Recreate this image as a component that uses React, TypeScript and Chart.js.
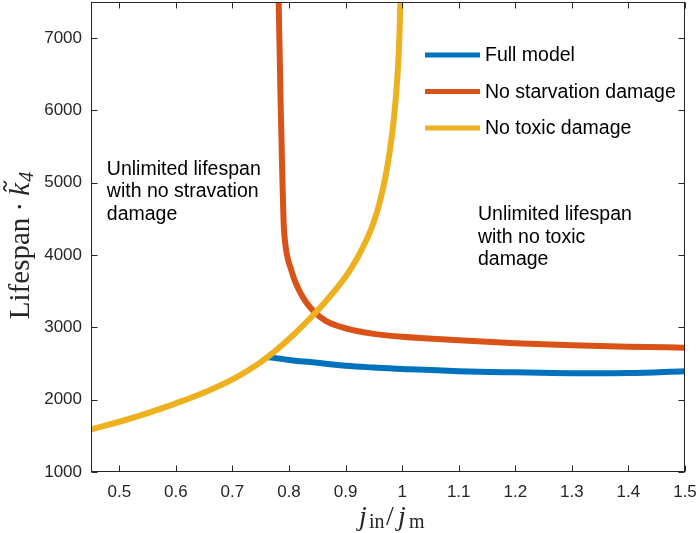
import { useEffect, useRef } from "react";
import { Chart, registerables } from "chart.js";

Chart.register(...registerables);

// tick labels
const xTicks = [0.5, 0.6, 0.7, 0.8, 0.9, 1.0, 1.1, 1.2, 1.3, 1.4, 1.5];
const yTicks = [1000, 2000, 3000, 4000, 5000, 6000, 7000];

// Full model
const fullX = [0.76, 0.77, 0.8, 0.85, 0.9, 0.95, 1.0, 1.1, 1.2, 1.3, 1.4, 1.5];
const fullY = [2590, 2582, 2550, 2510, 2470, 2445, 2425, 2395, 2378, 2366, 2368, 2395];

// No starvation damage
const starvX = [0.7815, 0.7855, 0.7885, 0.7905, 0.7935, 0.797, 0.8025, 0.81, 0.82, 0.83, 0.845, 0.865, 0.89, 0.92, 0.95, 1.0, 1.1, 1.2, 1.3, 1.4, 1.5];
const starvY = [7600, 6000, 5000, 4450, 4150, 3980, 3830, 3650, 3480, 3350, 3210, 3090, 3010, 2950, 2910, 2870, 2822, 2782, 2752, 2733, 2720];

// No toxic damage
const toxicX = [0.45, 0.5, 0.55, 0.6, 0.65, 0.7, 0.75, 0.8, 0.85, 0.88, 0.9, 0.92, 0.94, 0.95, 0.96, 0.97, 0.978, 0.985, 0.99, 0.994, 0.997, 0.998];
const toxicY = [1590, 1695, 1815, 1950, 2100, 2280, 2520, 2840, 3230, 3500, 3700, 3950, 4260, 4460, 4720, 5060, 5430, 5860, 6290, 6790, 7510, 7750];

const seriesNames = ["Full model", "No starvation damage", "No toxic damage"];
const seriesColors = ["#0072BD", "#D95319", "#EDB120"];

const leftNote = ["Unlimited lifespan", "with no stravation", "damage"];
const rightNote = ["Unlimited lifespan", "with no toxic", "damage"];

const AXIS = "#262626";
const SANS = "'Liberation Sans', Arial, sans-serif";
const SERIF = "'Liberation Serif', 'Times New Roman', serif";

const toPoints = (xs: number[], ys: number[]) => xs.map((x, i) => ({ x, y: ys[i] }));

const overlay = {
  id: "overlay",
  afterDraw(chart: any) {
    const { ctx, chartArea: a, scales } = chart;
    const x = scales.x;
    const y = scales.y;
    ctx.save();

    // box + inward ticks
    ctx.strokeStyle = AXIS;
    ctx.lineWidth = 1;
    const L = Math.round(a.left) + 0.5;
    const R = Math.round(a.right) - 0.5;
    const T = Math.round(a.top) + 0.5;
    const B = Math.round(a.bottom) - 0.5;
    ctx.strokeRect(L, T, R - L, B - T);
    ctx.beginPath();
    xTicks.forEach((v) => {
      const px = Math.round(x.getPixelForValue(v)) + 0.5;
      ctx.moveTo(px, B);
      ctx.lineTo(px, B - 6);
      ctx.moveTo(px, T);
      ctx.lineTo(px, T + 6);
    });
    yTicks.forEach((v) => {
      const py = Math.round(y.getPixelForValue(v)) + 0.5;
      ctx.moveTo(L, py);
      ctx.lineTo(L + 6, py);
      ctx.moveTo(R, py);
      ctx.lineTo(R - 6, py);
    });
    ctx.stroke();

    // legend
    ctx.font = `19.5px ${SANS}`;
    ctx.textBaseline = "middle";
    ctx.textAlign = "left";
    chart.data.datasets.forEach((ds: any, i: number) => {
      const ly = 55 + i * 36.5;
      ctx.strokeStyle = ds.borderColor;
      ctx.lineWidth = 5;
      ctx.beginPath();
      ctx.moveTo(425, ly);
      ctx.lineTo(480, ly);
      ctx.stroke();
      ctx.fillStyle = "#000";
      ctx.fillText(ds.label, 485, ly + 1);
    });

    // notes
    ctx.textBaseline = "alphabetic";
    ctx.fillStyle = "#000";
    leftNote.forEach((t, i) => ctx.fillText(t, x.getPixelForValue(0.478), y.getPixelForValue(5108) + i * 22.5));
    rightNote.forEach((t, i) => ctx.fillText(t, x.getPixelForValue(1.134), y.getPixelForValue(4485) + i * 22.5));

    // x title: j_in / j_m
    ctx.fillStyle = AXIS;
    const big = 28;
    const sub = 20;
    const mid = (a.left + a.right) / 2 + 2;
    const parts: [string, string, number, number][] = [
      ["j", `italic ${big}px ${SERIF}`, -31, 0],
      ["in", `${sub}px ${SERIF}`, -21, 3],
      ["/", `${big}px ${SERIF}`, -4, 0],
      ["j", `italic ${big}px ${SERIF}`, 8, 0],
      ["m", `${sub}px ${SERIF}`, 19, 3],
    ];
    parts.forEach(([t, f, off, dy]) => {
      ctx.font = f;
      ctx.fillText(t, mid + off, 524.5 + dy);
    });

    // y title: Lifespan · k~_4
    ctx.save();
    ctx.translate(28.5, 245.5);
    ctx.rotate(-Math.PI / 2);
    const yf = 29;
    ctx.font = `${yf}px ${SERIF}`;
    const w1 = ctx.measureText("Lifespan").width;
    ctx.font = `italic ${yf}px ${SERIF}`;
    const wk = ctx.measureText("k").width;
    ctx.font = `italic 20px ${SERIF}`;
    const w4 = ctx.measureText("4").width;
    const gap = 9;
    const dotW = 4;
    const tot = w1 + gap * 2 + dotW + wk + 1 + w4;
    let p = -tot / 2;
    ctx.font = `${yf}px ${SERIF}`;
    ctx.fillText("Lifespan", p, 0);
    p += w1 + gap;
    ctx.beginPath();
    ctx.arc(p + dotW / 2, -9, 1.8, 0, Math.PI * 2);
    ctx.fill();
    p += dotW + gap;
    ctx.font = `italic ${yf}px ${SERIF}`;
    ctx.fillText("k", p, 0);
    // tilde over k
    const tx = p + wk / 2 + 3;
    ctx.strokeStyle = AXIS;
    ctx.lineWidth = 1.6;
    ctx.beginPath();
    ctx.moveTo(tx - 5, -22);
    ctx.bezierCurveTo(tx - 3, -26, tx - 1, -25, tx, -23.5);
    ctx.bezierCurveTo(tx + 1, -22, tx + 3, -21, tx + 5, -25);
    ctx.stroke();
    p += wk + 1;
    ctx.font = `italic 20px ${SERIF}`;
    ctx.fillText("4", p, 4);
    ctx.restore();

    ctx.restore();
  },
};

export default function App() {
  const canvasRef = useRef<HTMLCanvasElement>(null);

  useEffect(() => {
    if (!canvasRef.current) return;
    const xs = [fullX, starvX, toxicX];
    const ys = [fullY, starvY, toxicY];
    const chart = new Chart(canvasRef.current, {
      type: "line",
      data: {
        datasets: seriesNames.map((name, i) => ({
          label: name,
          data: toPoints(xs[i], ys[i]),
          borderColor: seriesColors[i],
          backgroundColor: seriesColors[i],
          borderWidth: 6,
          pointRadius: 0,
          // the starvation curve has a sharp knee, keep it monotone
          cubicInterpolationMode: i === 1 ? ("monotone" as const) : ("default" as const),
          tension: i === 1 ? 0 : 0.4,
          borderJoinStyle: "round" as const,
          clip: 0,
          order: 3 - i,
        })),
      },
      options: {
        animation: false,
        responsive: false,
        layout: { padding: { top: 2, right: 14, left: 0, bottom: 0 } },
        plugins: { legend: { display: false }, tooltip: { enabled: false } },
        scales: {
          x: {
            type: "linear",
            min: 0.45,
            max: 1.5,
            grid: { display: false, drawTicks: false },
            border: { display: false },
            afterBuildTicks: (s: any) => {
              s.ticks = xTicks.map((value) => ({ value }));
            },
            afterFit: (s: any) => {
              s.height = 61;
              s.paddingLeft = 0;
              s.paddingRight = 0;
            },
            ticks: {
              autoSkip: false,
              maxRotation: 0,
              padding: 10,
              color: AXIS,
              font: { family: SANS, size: 17 },
              callback: (v: any) => String(Math.round(Number(v) * 10) / 10),
            },
          },
          y: {
            type: "linear",
            min: 1000,
            max: 7500,
            grid: { display: false, drawTicks: false },
            border: { display: false },
            afterBuildTicks: (s: any) => {
              s.ticks = yTicks.map((value) => ({ value }));
            },
            afterFit: (s: any) => {
              s.width = 91;
              s.paddingTop = 0;
              s.paddingBottom = 0;
            },
            ticks: {
              autoSkip: false,
              padding: 9,
              color: AXIS,
              font: { family: SANS, size: 17 },
              callback: (v: any) => String(v),
            },
          },
        },
      },
      plugins: [overlay],
    });
    return () => chart.destroy();
  }, []);

  return (
    <div style={{ position: "absolute", left: 0, top: 0, width: 699, height: 533, background: "#fff" }}>
      <canvas ref={canvasRef} width={699} height={533} style={{ display: "block" }} />
    </div>
  );
}
